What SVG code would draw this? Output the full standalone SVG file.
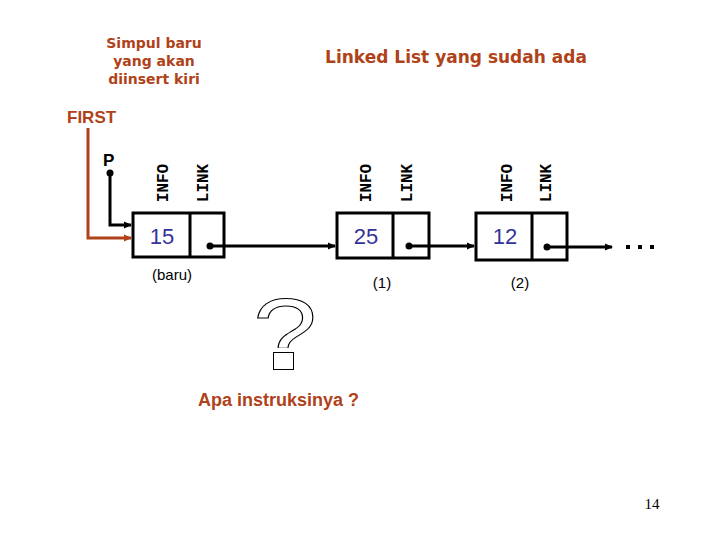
<svg xmlns="http://www.w3.org/2000/svg" width="720" height="540" viewBox="0 0 720 540">
<style>
.title{font-family:"DejaVu Sans",sans-serif;font-weight:bold;fill:#b0421a}
.hdr{font-family:"Liberation Sans",Arial,sans-serif;font-weight:bold;fill:#b0421a}
.fld{font-family:"Liberation Mono","Courier New",monospace;font-weight:bold;font-size:16px;fill:#000}
.val{font-family:"Liberation Sans",Arial,sans-serif;font-size:22px;fill:#333399}
.lbl{font-family:"Liberation Sans",Arial,sans-serif;font-size:15px;fill:#000}
.box{fill:#fff;stroke:#000;stroke-width:3}
.ln{fill:none;stroke:#000;stroke-width:3}
.red{fill:none;stroke:#b0421a;stroke-width:3}
</style>
<defs>
<marker id="ab" markerWidth="8" markerHeight="8" refX="7" refY="4" orient="auto" markerUnits="userSpaceOnUse">
<path d="M0,0.5 L8,4 L0,7.5 Z" fill="#000"/>
</marker>
<marker id="ar" markerWidth="8" markerHeight="8" refX="7" refY="4" orient="auto" markerUnits="userSpaceOnUse">
<path d="M0,0.5 L8,4 L0,7.5 Z" fill="#b0421a"/>
</marker>
<clipPath id="qclip"><rect x="240" y="280" width="100" height="68"/></clipPath>
</defs>
<rect width="720" height="540" fill="#fff"/>
<g id="titles">
<text class="title" font-size="14" text-anchor="middle" x="154" y="48">Simpul baru</text>
<text class="title" font-size="14" text-anchor="middle" x="154" y="66">yang akan</text>
<text class="title" font-size="14" text-anchor="middle" x="154" y="84">diinsert kiri</text>
<text class="title" font-size="17" text-anchor="middle" x="456" y="63">Linked List yang sudah ada</text>
</g>
<g id="first">
<text class="hdr" font-size="17" x="67" y="123">FIRST</text>
</g>
<g id="p">
<text class="hdr" font-size="17" x="103" y="166" style="fill:#000">P</text>
<circle cx="110" cy="173" r="3.5" fill="#000"/>
</g>
<g id="node-baru">
<rect class="box" x="133" y="213" width="91" height="44"/>
<line class="ln" x1="190" y1="213" x2="190" y2="257"/>
<text class="val" x="162" y="244" text-anchor="middle">15</text>
<text class="fld" transform="translate(168,183) rotate(-90)" text-anchor="middle">INFO</text>
<text class="fld" transform="translate(208,183) rotate(-90)" text-anchor="middle">LINK</text>
<circle cx="210" cy="246" r="3.5" fill="#000"/>
<text class="lbl" x="172" y="280" text-anchor="middle">(baru)</text>
</g>
<g id="node-1">
<rect class="box" x="337" y="213" width="92" height="45"/>
<line class="ln" x1="393" y1="213" x2="393" y2="258"/>
<text class="val" x="366" y="244" text-anchor="middle">25</text>
<text class="fld" transform="translate(371,183) rotate(-90)" text-anchor="middle">INFO</text>
<text class="fld" transform="translate(412,183) rotate(-90)" text-anchor="middle">LINK</text>
<circle cx="409" cy="246" r="3.5" fill="#000"/>
<text class="lbl" x="382" y="288" text-anchor="middle">(1)</text>
</g>
<g id="node-2">
<rect class="box" x="476" y="213" width="91" height="47"/>
<line class="ln" x1="532" y1="213" x2="532" y2="260"/>
<text class="val" x="505" y="244" text-anchor="middle">12</text>
<text class="fld" transform="translate(512,183) rotate(-90)" text-anchor="middle">INFO</text>
<text class="fld" transform="translate(551,183) rotate(-90)" text-anchor="middle">LINK</text>
<circle cx="547" cy="247" r="3.5" fill="#000"/>
<text class="lbl" x="520" y="288" text-anchor="middle">(2)</text>
</g>
<g id="ellipsis">
<rect x="626" y="245" width="4" height="4" fill="#000"/>
<rect x="638" y="245" width="4" height="4" fill="#000"/>
<rect x="650" y="245" width="4" height="4" fill="#000"/>
</g>
<g id="connectors">
<polyline class="red" points="88,128 88,238 131,238" marker-end="url(#ar)"/>
<polyline class="ln" points="110,173 110,225 131,225" marker-end="url(#ab)"/>
<line class="ln" x1="210" y1="246" x2="335" y2="246" marker-end="url(#ab)"/>
<line class="ln" x1="409" y1="246" x2="474" y2="246" marker-end="url(#ab)"/>
<line class="ln" x1="547" y1="247" x2="612" y2="247" marker-end="url(#ab)"/>
</g>
<g id="question">
<g clip-path="url(#qclip)">
<text transform="translate(285,366) scale(1.2,1)" text-anchor="middle" font-family="Liberation Sans, Arial, sans-serif" font-size="96" fill="#fff" stroke="#000" stroke-width="1">?</text>
</g>
<rect x="273.5" y="352.5" width="20" height="17" fill="#fff" stroke="#000" stroke-width="1"/>
<text class="hdr" font-size="18" x="198" y="406">Apa instruksinya ?</text>
</g>
<g id="page">
<text x="652" y="509" text-anchor="middle" font-family="Liberation Serif, 'Times New Roman', serif" font-size="15" fill="#000">14</text>
</g>
</svg>
